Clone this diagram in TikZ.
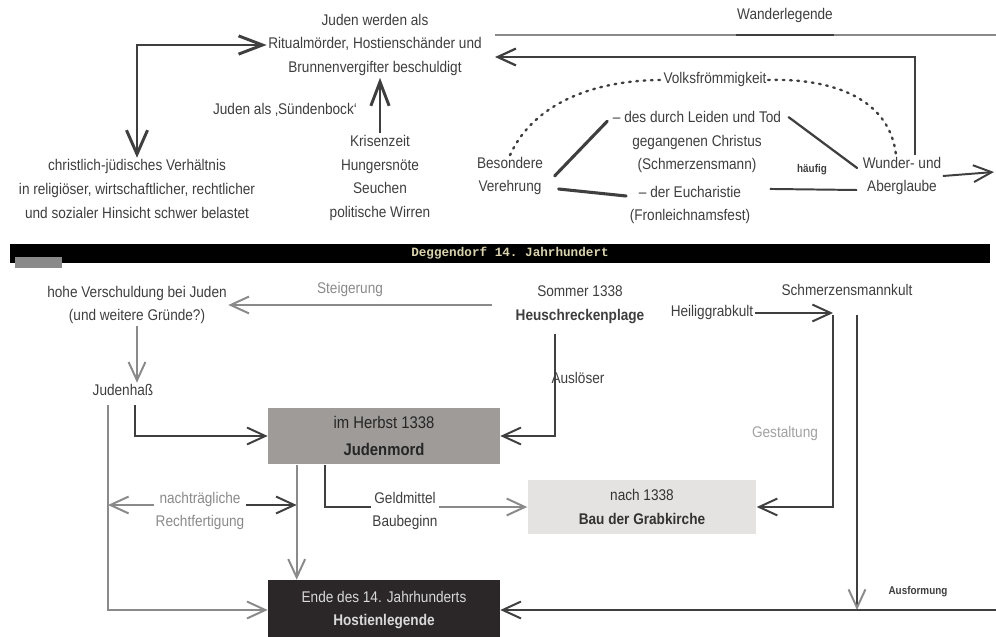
\documentclass[tikz,border=0pt]{standalone}
\usepackage{fontspec}
\setmainfont[FakeStretch=0.88]{Liberation Sans}
\setmonofont{Liberation Mono}
\usetikzlibrary{arrows.meta,positioning,calc}

\definecolor{linegray}{HTML}{3F3F3F}
\definecolor{txtgray}{HTML}{3E3E3E}
\definecolor{softgray}{HTML}{8A8A8A}
\definecolor{mordfill}{HTML}{9E9B99}
\definecolor{grabfill}{HTML}{E4E3E1}
\definecolor{hostiefill}{HTML}{2B2728}
\definecolor{bartext}{HTML}{D9D3AE}

\tikzset{
  lbl/.style={align=center,text=txtgray,font=\fontsize{11}{17}\selectfont,inner sep=1pt},
  soft/.style={lbl,text=softgray},
  box/.style={lbl,minimum width=5.8cm,minimum height=1.42cm,inner sep=0pt},
  conn/.style={draw=linegray,line width=1.4pt},
  arr/.style={conn,-{Straight Barb[length=13pt,width=12pt]}},
  bigboth/.style={conn,line width=2.1pt,{Straight Barb[length=17pt,width=15pt]}-{Straight Barb[length=17pt,width=13pt]}},
  stroke/.style={draw=linegray,line width=2.2pt,line cap=round},
  dots/.style={draw=linegray,line width=1.7pt,dash pattern=on 1.2pt off 4pt,line cap=round},
}

\begin{document}
\begin{tikzpicture}[x=0.025cm,y=-0.025cm]
\useasboundingbox (0,0) rectangle (996,637);

% oberer Teil
\node[lbl] (beschuldigt) at (375,45) {Juden werden als\\Ritualmörder, Hostienschänder und\\Brunnenvergifter beschuldigt};
\node[lbl] (verhaeltnis) at (137,189) {christlich-jüdisches Verhältnis\\in religiöser, wirtschaftlicher, rechtlicher\\und sozialer Hinsicht schwer belastet};
\node[lbl] (krise) at (380,178) {Krisenzeit\\Hungersnöte\\Seuchen\\politische Wirren};
\node[lbl] (suendenbock) at (285,110) {Juden als ‚Sündenbock‘};
\node[lbl] (wanderlegende) at (785,16) {Wanderlegende};
\node[lbl] (volk) at (715,80) {Volksfrömmigkeit};
\node[lbl] (verehrung) at (510,176) {Besondere\\Verehrung};
\node[lbl] (christus) at (697,142) {-- des durch Leiden und Tod\\gegangenen Christus\\(Schmerzensmann)};
\node[lbl] (eucharistie) at (690,205) {-- der Eucharistie\\(Fronleichnamsfest)};
\node[lbl] (wunder) at (902,176) {Wunder- und\\Aberglaube};
\node[lbl,font=\bfseries\fontsize{8}{10}\selectfont] (haeufig) at (812,170) {häufig};

\coordinate (wlstart) at (495,35);
\coordinate (wlend) at (996,35);
\coordinate (wlin) at (495,57);
\coordinate (wexit) at (994,172);

\draw[bigboth] (verhaeltnis.north) |- (beschuldigt.west);
\draw[conn,line width=2.1pt,-{Straight Barb[length=17pt,width=13pt]}] (krise.north) -- (krise.north |- beschuldigt.south);
\draw[draw=softgray,line width=1.2pt] (wlstart) -- (wlend);
\draw[conn] (wanderlegende.south west |- wlstart) -- (wanderlegende.south east |- wlstart);
\draw[arr,line width=1.6pt] ($(wunder.north)+(13,0)$) |- (wlin);
\draw[dots] (verehrung.north) .. controls (535,100) and (600,80) .. (volk.west);
\draw[dots] (volk.east) .. controls (835,78) and (890,100) .. ($(wunder.north)+(-6,0)$);
\draw[stroke] ($(verehrung.east)+(10,0)$) -- ($(christus.north west)+(-4,12)$);
\draw[stroke] ($(verehrung.east)+(14,13)$) -- ($(eucharistie.west)+(-2,-9)$);
\draw[stroke,line width=1.6pt] ($(christus.north east)+(6,8)$) -- ($(wunder.west)+(-4,-8)$);
\draw[conn] (haeufig.south -| eucharistie.east) ++(18,12) -- ($(wunder.west)+(-4,14)$);
\draw[arr] (wunder.east) -- (wexit);

% Balken
\fill[black] (10,244) rectangle (990,263);
\fill[softgray] (15,257) rectangle (62,268);
\node[text=bartext,font=\ttfamily\bfseries\fontsize{9}{10}\selectfont] (epoche) at (510,253) {Deggendorf 14. Jahrhundert};

% unterer Teil
\node[lbl] (verschuldung) at (137,305) {hohe Verschuldung bei Juden\\(und weitere Gründe?)};
\node[soft] (steigerung) at (350,290) {Steigerung};
\node[lbl] (sommer) at (580,305) {Sommer 1338\\\textbf{Heuschreckenplage}};
\node[lbl] (kult) at (847,290) {Schmerzensmannkult};
\node[lbl] (heiliggrab) at (712,313) {Heiliggrabkult};
\node[lbl] (judenhass) at (123,390) {Judenhaß};
\node[lbl] (ausloeser) at (578,378) {Auslöser};
\node[soft,text=softgray!80] (gestaltung) at (785,433) {Gestaltung};
\node[box,fill=mordfill,text=black!85,font=\fontsize{12}{19}\selectfont] (mord) at (384,436) {im Herbst 1338\\\textbf{Judenmord}};
\node[box,fill=grabfill,text=black!80,minimum width=5.72cm,minimum height=1.37cm] (grab) at (642,507) {nach 1338\\\textbf{Bau der Grabkirche}};
\node[box,fill=hostiefill,text=white!85!black,minimum height=1.5cm] (hostie) at (384,610) {Ende des 14. Jahrhunderts\\\textbf{Hostienlegende}};
\node[soft] (recht) at (200,511) {nachträgliche\\Rechtfertigung};
\node[lbl] (geld) at (405,511) {Geldmittel\\Baubeginn};
\node[lbl,font=\bfseries\fontsize{8}{10}\selectfont] (ausformung) at (918,592) {Ausformung};

\coordinate (hassl) at ($(judenhass.south)+(-15,8)$);
\coordinate (hassr) at ($(judenhass.south)+(12,8)$);
\coordinate (mordl) at ($(mord.south west)+(29,0)$);
\coordinate (mordr) at ($(mord.south west)+(57,0)$);
\coordinate (kultl) at ($(kult.south)+(-14,18)$);
\coordinate (kultr) at ($(kult.south)+(10,18)$);
\coordinate (bedge) at (996,610);

\draw[arr,draw=softgray] ($(sommer.west)+(-22,0)$) -- (verschuldung.east);
\draw[arr,draw=softgray] (verschuldung.south) -- (verschuldung.south |- judenhass.north);
\draw[arr] (hassr) |- (mord.west);
\draw[arr,draw=softgray] (hassl) |- (hostie.west);
\draw[arr,draw=softgray] (recht.west |- 0,505) -- (hassl |- 0,505);
\draw[arr] (recht.east |- 0,505) -- (mordl |- 0,505);
\draw[arr,draw=softgray] (mordl) -- (mordl |- hostie.north);
\draw[conn] (mordr) |- (geld.west |- grab.west);
\draw[arr,draw=softgray] (geld.east |- grab.west) -- (grab.west);
\draw[arr] ($(sommer.south)+(-25,8)$) |- (mord.east);
\draw[arr] (heiliggrab.east) -- (kultl |- heiliggrab.east);
\draw[arr] (kultl) |- (grab.east);
\draw[conn,-{Straight Barb[length=13pt,width=12pt,color=softgray]}] (kultr) -- (kultr |- bedge);
\draw[arr] (bedge) -- (hostie.east);
\end{tikzpicture}
\end{document}
